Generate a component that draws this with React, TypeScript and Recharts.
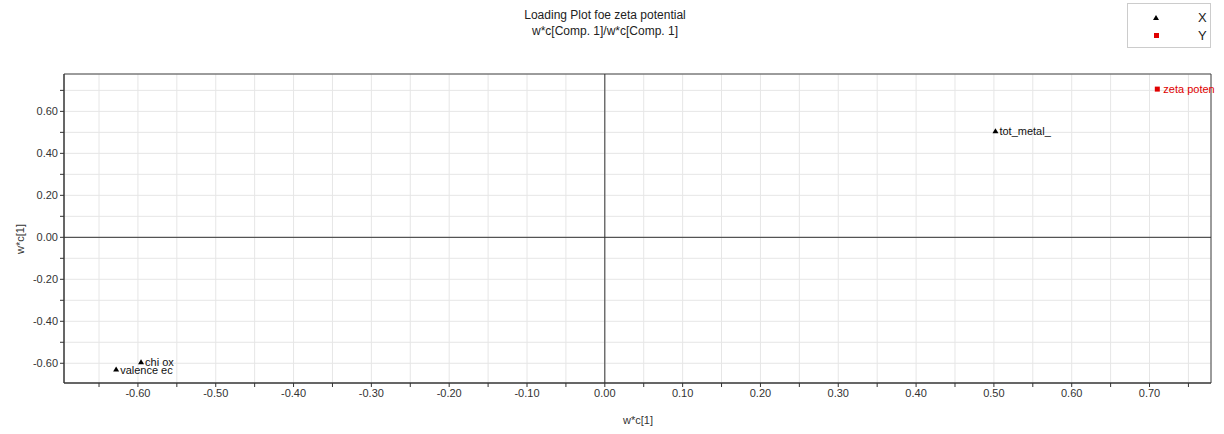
import React from 'react';
import { ScatterChart, Scatter, XAxis, YAxis, CartesianGrid, ReferenceLine, ReferenceArea } from 'recharts';

const xVarNames = ['tot_metal_', 'chi ox', 'valence ec'];
const xVarX = [0.502, -0.596, -0.628];
const xVarY = [0.505, -0.595, -0.63];

const yVarNames = ['zeta poten'];
const yVarX = [0.71];
const yVarY = [0.706];

const xTicks = [-0.65, -0.6, -0.55, -0.5, -0.45, -0.4, -0.35, -0.3, -0.25, -0.2, -0.15, -0.1, -0.05, 0, 0.05, 0.1, 0.15, 0.2, 0.25, 0.3, 0.35, 0.4, 0.45, 0.5, 0.55, 0.6, 0.65, 0.7, 0.75];
const yTicks = [-0.6, -0.5, -0.4, -0.3, -0.2, -0.1, 0, 0.1, 0.2, 0.3, 0.4, 0.5, 0.6, 0.7];

const xData = xVarNames.map((name, i) => ({ name, x: xVarX[i], y: xVarY[i] }));
const yData = yVarNames.map((name, i) => ({ name, x: yVarX[i], y: yVarY[i] }));

const X_MIN = -0.695, X_MAX = 0.779, Y_MIN = -0.694, Y_MAX = 0.778;
const FONT = '"Liberation Sans", Arial, sans-serif';

const Tri = (props: any) => {
  const { cx, cy, payload } = props;
  return (
    <g>
      <polygon points={`${cx},${cy - 3} ${cx - 3},${cy + 2} ${cx + 3},${cy + 2}`} fill="#000" />
      <text x={cx + 4} y={cy + 4} fontSize={11} fontFamily={FONT} fill="#111">{payload.name}</text>
    </g>
  );
};

const Sq = (props: any) => {
  const { cx, cy, payload } = props;
  return (
    <g>
      <rect x={cx - 2.5} y={cy - 2.5} width={5} height={5} fill="#e00000" />
      <text x={cx + 6} y={cy + 4} fontSize={11} fontFamily={FONT} fill="#e00000">{payload.name}</text>
    </g>
  );
};

const fmtX = (v: number) => (Math.round(v * 100) % 10 === 0 ? (Math.abs(v) < 1e-9 ? 0 : v).toFixed(2) : '');
const fmtY = (v: number) => (Math.round(v * 10) % 2 === 0 ? (Math.abs(v) < 1e-9 ? 0 : v).toFixed(2) : '');

export default function App() {
  return (
    <div style={{ position: 'absolute', left: 0, top: 0, width: 1224, height: 434, background: '#fff', fontFamily: FONT }}>
      <div style={{ position: 'absolute', left: 0, width: 1210, top: 7, textAlign: 'center', fontSize: 12, lineHeight: '16px', color: '#222' }}>
        <div>Loading Plot foe zeta potential</div>
        <div>w*c[Comp. 1]/w*c[Comp. 1]</div>
      </div>
      <div style={{ position: 'absolute', left: 1127, top: 3, width: 84, height: 45, border: '1px solid #ccc', boxSizing: 'border-box', background: '#fff' }}>
        <svg width={84} height={45} style={{ position: 'absolute', left: 0, top: 0 }}>
          <polygon points="28,11 25,16 31,16" fill="#000" />
          <rect x={26} y={29} width={5} height={5} fill="#e00000" />
          <text x={70} y={18} fontSize={13} fontFamily={FONT} fill="#222">X</text>
          <text x={70} y={36} fontSize={13} fontFamily={FONT} fill="#222">Y</text>
        </svg>
      </div>
      <div style={{ position: 'absolute', left: 0, top: 230, width: 40, height: 18, fontSize: 11, color: '#333', textAlign: 'center', transform: 'rotate(-90deg)', transformOrigin: 'center', lineHeight: '18px' }}>w*c[1]</div>
      <div style={{ position: 'absolute', left: 600, width: 76, top: 414, fontSize: 11, color: '#333', textAlign: 'center' }}>w*c[1]</div>
      <ScatterChart width={1224} height={434} margin={{ top: 74, right: 13, bottom: 21, left: 14 }} style={{ overflow: 'visible' }}>
        <CartesianGrid stroke="#e6e6e6" />
        <XAxis
          type="number"
          dataKey="x"
          domain={[X_MIN, X_MAX]}
          ticks={xTicks}
          tickFormatter={fmtX}
          interval={0}
          height={30}
          tickSize={4}
          stroke="#333"
          tick={{ fontSize: 11, fill: '#333', fontFamily: FONT }}
        />
        <YAxis
          type="number"
          dataKey="y"
          domain={[Y_MIN, Y_MAX]}
          ticks={yTicks}
          tickFormatter={fmtY}
          interval={0}
          width={50}
          tickSize={4}
          stroke="#333"
          tick={{ fontSize: 11, fill: '#333', fontFamily: FONT }}
        />
        <ReferenceArea x1={X_MIN} x2={X_MAX} y1={Y_MIN} y2={Y_MAX} fill="none" stroke="#444" strokeWidth={1} />
        <ReferenceLine x={0} stroke="#333" />
        <ReferenceLine y={0} stroke="#333" />
        <Scatter data={xData} shape={Tri} isAnimationActive={false} />
        <Scatter data={yData} shape={Sq} isAnimationActive={false} />
      </ScatterChart>
    </div>
  );
}
